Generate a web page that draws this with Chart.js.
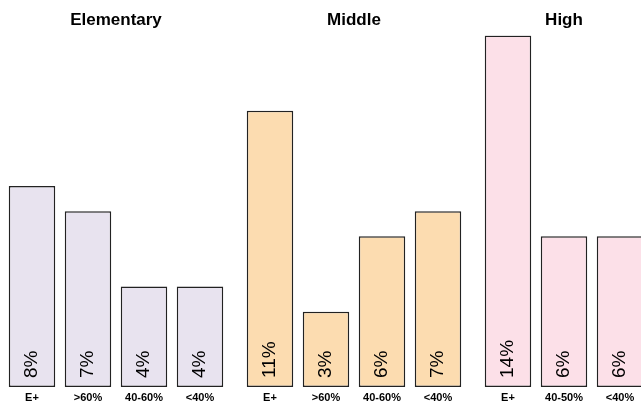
<!DOCTYPE html>
<html>
<head>
<meta charset="utf-8">
<script src="https://cdn.jsdelivr.net/npm/chart.js@4/dist/chart.umd.min.js"></script>
<style>
  html, body { margin: 0; padding: 0; background: #fff; }
  #wrap { position: relative; width: 641px; height: 404px; overflow: hidden; background: #fff; }
  .panel { position: absolute; top: 0; height: 404px; }
</style>
</head>
<body>
<div id="wrap">
  <div class="panel" style="left:4px;width:224px"><canvas id="elementary" width="224" height="404"></canvas></div>
  <div class="panel" style="left:242px;width:224px"><canvas id="middle" width="224" height="404"></canvas></div>
  <div class="panel" style="left:480px;width:168px"><canvas id="high" width="168" height="404"></canvas></div>
</div>
<script>
// School levels shown as side-by-side panels
const groupNames = ['Elementary', 'Middle', 'High'];

// Rating bands per level
const elementaryLabels = ['E+', '>60%', '40-60%', '<40%'];
const middleLabels = ['E+', '>60%', '40-60%', '<40%'];
const highLabels = ['E+', '40-50%', '<40%'];

// Share of schools (%) per band
const elementaryValues = [8, 7, 4, 4];
const middleValues = [11, 3, 6, 7];
const highValues = [14, 6, 6];

// Shared value range so all panels line up
const yMin = 0;
const yMax = 14;

const FONT = "'Liberation Sans', Arial, Helvetica, sans-serif";

// Writes each bar's value vertically near the bottom of the bar
const barValueLabels = {
  id: 'barValueLabels',
  afterDatasetsDraw(chart) {
    const ctx = chart.ctx;
    const ds = chart.data.datasets[0];
    chart.getDatasetMeta(0).data.forEach((bar, i) => {
      ctx.save();
      ctx.translate(bar.x + 5, bar.base - 9);
      ctx.rotate(-Math.PI / 2);
      ctx.font = '19px ' + FONT;
      ctx.fillStyle = '#000';
      ctx.textAlign = 'left';
      ctx.textBaseline = 'alphabetic';
      ctx.fillText(ds.data[i] + '%', 0, 0);
      ctx.restore();
    });
  }
};

function makePanel(id, title, labels, values, fill) {
  new Chart(document.getElementById(id), {
    type: 'bar',
    data: {
      labels: labels,
      datasets: [{
        data: values,
        backgroundColor: fill,
        borderColor: '#222',
        borderWidth: 1.5,
        borderSkipped: false,
        barPercentage: 0.83,
        categoryPercentage: 1.0
      }]
    },
    options: {
      responsive: false,
      animation: false,
      devicePixelRatio: 1,
      layout: { padding: 0 },
      plugins: {
        legend: { display: false },
        tooltip: { enabled: false },
        title: {
          display: true,
          text: title,
          color: '#000',
          font: { family: FONT, size: 17, weight: 'bold' },
          padding: { top: 10, bottom: 5 }
        }
      },
      scales: {
        x: {
          grid: { display: false, drawTicks: false },
          border: { display: false },
          ticks: {
            color: '#000',
            font: { family: FONT, size: 11, weight: 'bold' },
            padding: 4,
            maxRotation: 0,
            autoSkip: false
          },
          // fixed band under the bars for the band labels
          afterFit(scale) { scale.height = 17; }
        },
        y: {
          display: false,
          min: yMin,
          max: yMax
        }
      }
    },
    plugins: [barValueLabels]
  });
}

makePanel('elementary', groupNames[0], elementaryLabels, elementaryValues, '#e8e3ef');
makePanel('middle', groupNames[1], middleLabels, middleValues, '#fcdcb0');
makePanel('high', groupNames[2], highLabels, highValues, '#fce0e8');
</script>
</body>
</html>
